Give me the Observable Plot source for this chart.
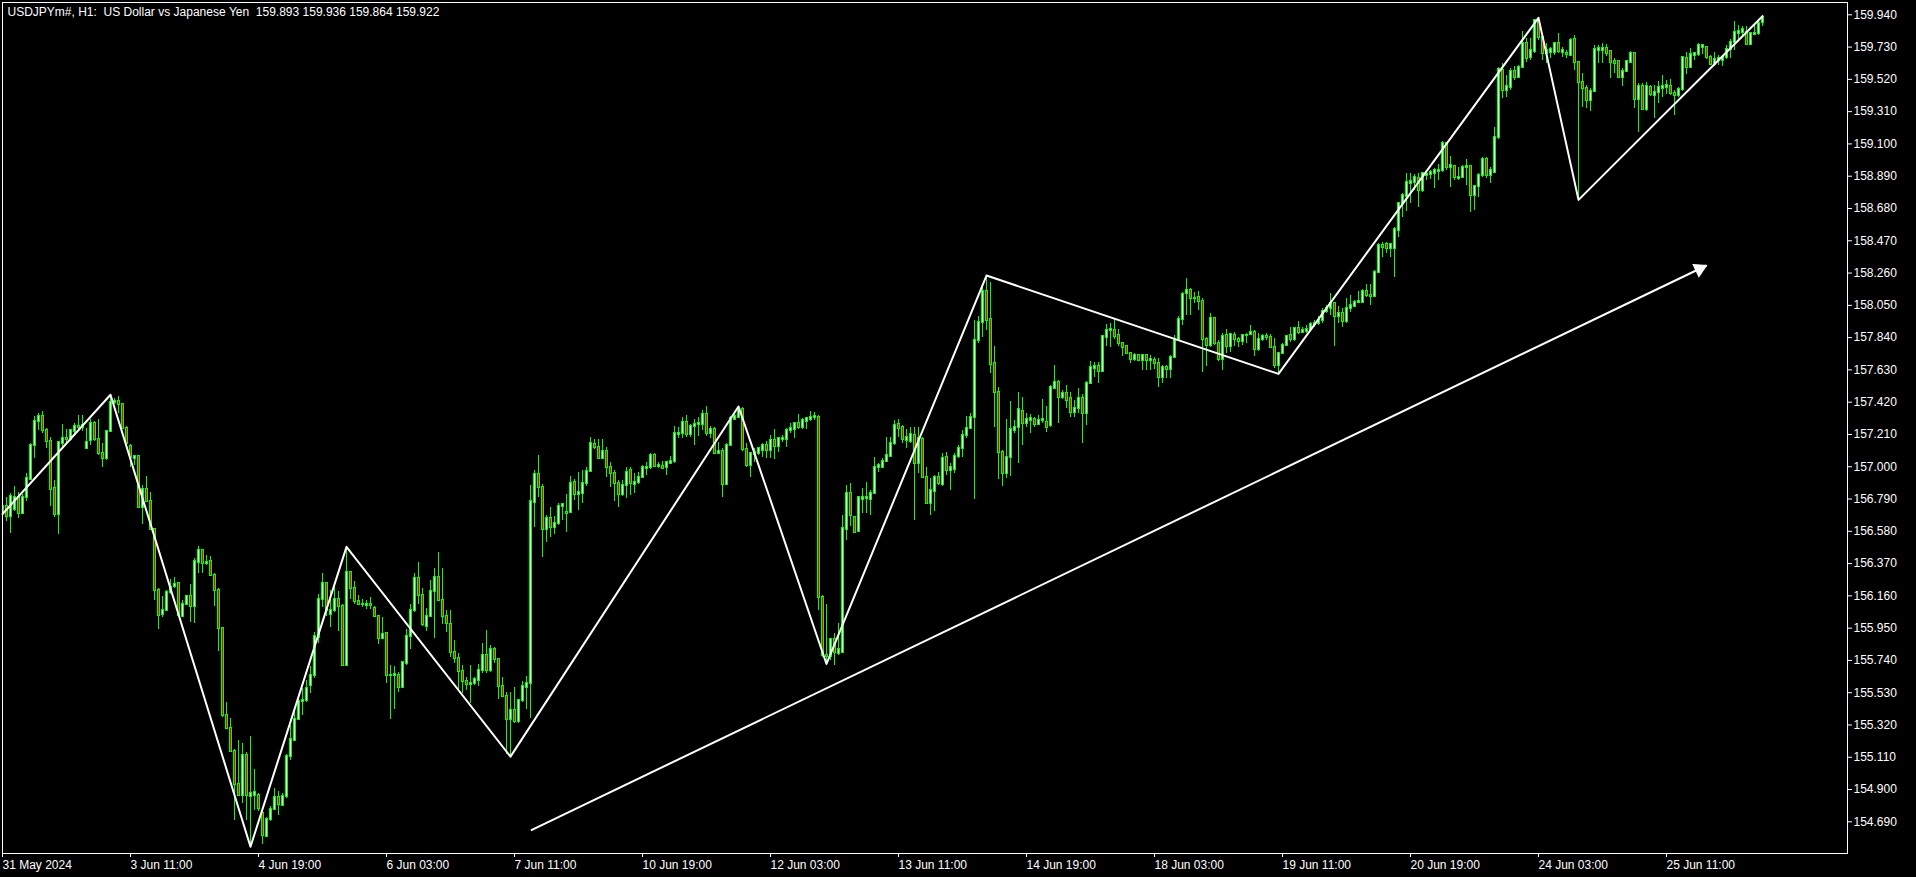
<!DOCTYPE html>
<html><head><meta charset="utf-8">
<script src="https://cdn.jsdelivr.net/npm/d3@7"></script>
<script src="https://cdn.jsdelivr.net/npm/@observablehq/plot@0.6"></script>
<style>html,body{margin:0;padding:0;background:#000;overflow:hidden}</style>
</head><body><div id="chart"></div>
<script>
const titleText = "USDJPYm#, H1:  US Dollar vs Japanese Yen  159.893 159.936 159.864 159.922";

const open = [
156.710,156.743,156.677,156.721,156.798,156.699,156.798,156.919,157.139,157.293,
157.326,157.233,157.161,156.857,156.688,157.154,157.183,157.178,157.227,157.260,
157.255,157.117,157.172,157.282,157.178,157.084,157.055,157.227,157.418,157.424,
157.407,157.249,157.134,157.051,157.066,156.732,156.853,156.776,156.594,156.194,
156.040,156.062,156.183,156.220,156.238,156.029,156.101,156.154,156.088,156.380,
156.457,156.369,156.385,156.292,156.198,155.947,155.380,155.297,155.150,154.930,
154.864,155.121,154.853,154.864,154.864,154.747,154.596,154.703,154.771,154.846,
154.798,154.853,155.112,155.222,155.358,155.472,155.479,155.578,155.640,155.886,
156.139,156.238,156.040,156.062,156.139,156.088,155.706,156.310,156.209,156.123,
156.101,156.099,156.106,156.079,156.029,155.881,155.914,155.644,155.640,155.640,
155.567,155.721,155.897,156.062,156.271,156.161,155.963,156.029,156.189,156.277,
156.132,156.025,155.973,155.793,155.754,155.669,155.604,155.583,155.591,155.609,
155.674,155.771,155.674,155.808,155.743,155.570,155.507,155.353,155.413,155.344,
155.478,155.565,155.587,156.769,156.949,156.862,156.589,156.661,156.602,156.628,
156.741,156.700,156.704,156.899,156.819,156.828,156.893,156.971,157.144,157.122,
157.055,157.097,156.997,156.953,156.893,156.819,156.877,156.975,156.884,156.895,
156.932,156.988,156.992,157.073,157.001,157.001,156.997,157.023,157.036,157.210,
157.214,157.290,157.209,157.261,157.272,157.274,157.339,157.214,157.240,157.088,
157.101,156.884,157.138,157.305,157.318,157.374,157.109,157.008,157.079,157.083,
157.105,157.138,157.105,157.170,157.131,157.179,157.175,157.235,157.244,157.279,
157.257,157.297,157.307,157.318,157.322,156.151,155.771,155.765,155.873,155.787,
155.793,156.589,156.827,156.667,156.580,156.790,156.795,156.786,156.827,156.992,
156.997,157.036,157.066,157.149,157.275,157.253,157.170,157.166,157.203,157.019,
157.175,156.932,156.763,156.841,156.928,156.884,157.058,156.975,156.980,157.066,
157.116,157.203,157.246,157.318,157.821,157.940,158.142,157.955,157.669,157.485,
157.095,156.954,157.062,157.236,157.253,157.362,157.279,157.303,157.305,157.275,
157.301,157.290,157.268,157.507,157.550,157.448,157.478,157.442,157.355,157.377,
157.442,157.344,157.544,157.640,157.652,157.622,157.843,157.886,157.886,157.854,
157.804,157.782,157.739,157.695,157.723,157.691,157.723,157.691,157.691,157.674,
157.583,157.648,157.630,157.713,157.826,157.955,158.125,158.147,158.092,158.099,
158.077,157.826,157.789,157.962,157.804,157.695,157.854,157.782,157.854,157.826,
157.813,157.854,157.860,157.875,157.760,157.826,157.847,157.843,157.778,157.659,
157.739,157.789,157.854,157.826,157.897,157.875,157.880,157.893,157.925,157.930,
157.951,158.010,158.027,158.063,157.977,157.994,157.946,158.027,158.042,158.066,
158.070,158.142,158.113,158.110,158.265,158.439,158.443,158.417,158.417,158.537,
158.710,158.757,158.845,158.849,158.873,158.797,158.895,158.899,158.905,158.922,
158.927,159.100,158.949,158.953,158.873,158.879,158.944,158.953,158.764,158.823,
158.894,158.996,158.894,158.916,159.140,159.578,159.447,159.469,159.573,159.530,
159.599,159.751,159.664,159.704,159.899,159.790,159.686,159.697,159.697,159.751,
159.697,159.690,159.675,159.777,159.632,159.502,159.458,159.382,159.443,159.708,
159.710,159.718,159.703,159.638,159.638,159.530,159.573,159.632,159.690,159.387,
159.473,159.322,159.469,159.415,159.436,159.462,159.469,159.473,159.430,159.415,
159.452,159.654,159.599,159.675,159.682,159.730,159.725,159.664,159.617,159.643,
159.643,159.660,159.712,159.762,159.820,159.827,159.827,159.747,159.812,159.816,
159.893];

const high = [
156.985,156.798,156.827,156.870,156.831,156.820,156.958,157.150,157.330,157.347,
157.358,157.249,157.187,156.908,157.161,157.275,157.244,157.244,157.282,157.336,
157.336,157.249,157.310,157.297,157.310,157.150,157.238,157.468,157.446,157.457,
157.413,157.260,157.143,157.073,157.073,156.875,156.936,156.831,156.600,156.205,
156.156,156.194,156.264,156.282,156.249,156.128,156.161,156.233,156.402,156.484,
156.462,156.424,156.413,156.308,156.205,155.952,155.468,155.363,155.161,155.222,
155.200,155.139,155.248,155.029,154.875,154.754,154.721,154.787,154.908,154.886,
154.875,155.128,155.314,155.424,155.486,155.556,155.611,155.699,155.919,156.172,
156.303,156.249,156.194,156.249,156.189,156.106,156.479,156.314,156.255,156.161,
156.134,156.128,156.150,156.088,156.035,156.018,155.923,155.710,155.699,155.662,
155.732,155.941,156.101,156.308,156.376,156.205,156.079,156.260,156.341,156.440,
156.336,156.064,156.064,155.869,155.787,155.706,155.630,155.706,155.630,155.711,
155.847,155.934,155.836,155.826,155.754,155.630,155.533,155.533,155.565,155.489,
155.604,155.635,156.877,156.975,157.073,156.884,156.682,156.736,156.676,156.758,
156.762,156.819,156.938,156.914,156.964,156.975,156.992,157.188,157.175,157.179,
157.175,157.127,157.029,156.975,156.910,156.910,156.997,156.997,156.953,156.964,
157.008,157.029,157.088,157.083,157.029,157.036,157.036,157.066,157.261,157.257,
157.322,157.333,157.274,157.305,157.318,157.365,157.392,157.261,157.257,157.159,
157.116,157.153,157.326,157.355,157.392,157.383,157.148,157.094,157.116,157.127,
157.148,157.166,157.203,157.240,157.188,157.203,157.246,157.279,157.290,157.339,
157.311,157.322,157.361,157.355,157.333,156.161,156.103,155.880,155.912,155.977,
156.682,156.877,156.893,156.676,156.801,156.856,156.899,156.845,157.062,157.018,
157.051,157.188,157.188,157.301,157.305,157.268,157.240,157.257,157.257,157.257,
157.188,156.993,156.921,156.943,156.965,157.088,157.095,157.019,157.088,157.138,
157.236,157.327,157.348,157.951,157.977,158.168,158.244,158.201,157.782,157.518,
157.105,157.305,157.426,157.301,157.485,157.448,157.348,157.340,157.322,157.333,
157.435,157.392,157.528,157.659,157.561,157.496,157.528,157.485,157.431,157.507,
157.470,157.557,157.687,157.680,157.680,157.854,157.925,157.934,157.955,157.890,
157.810,157.789,157.745,157.734,157.730,157.730,157.730,157.723,157.713,157.702,
157.659,157.659,157.724,157.854,157.977,158.136,158.222,158.157,158.136,158.142,
158.092,157.838,157.999,157.969,157.821,157.865,157.890,157.869,157.875,157.843,
157.860,157.865,157.919,157.886,157.865,157.860,157.865,157.860,157.832,157.745,
157.800,157.854,157.908,157.908,157.947,157.908,157.919,157.940,157.951,157.977,
158.027,158.049,158.124,158.070,158.042,158.027,158.092,158.113,158.081,158.142,
158.150,158.185,158.185,158.276,158.454,158.461,158.461,158.454,158.554,158.721,
158.779,158.905,158.910,158.901,158.905,158.916,158.916,158.927,158.938,158.966,
159.118,159.111,159.018,158.960,158.949,158.960,158.996,158.960,158.829,158.910,
159.009,159.009,158.944,159.204,159.599,159.621,159.545,159.588,159.603,159.610,
159.833,159.784,159.784,159.907,159.920,159.799,159.751,159.729,159.762,159.816,
159.725,159.708,159.784,159.805,159.638,159.556,159.480,159.458,159.740,159.740,
159.755,159.747,159.708,159.653,159.643,159.588,159.643,159.703,159.697,159.495,
159.491,159.502,159.480,159.480,159.508,159.545,159.512,159.517,159.447,159.465,
159.669,159.697,159.718,159.697,159.751,159.747,159.729,159.675,159.697,159.675,
159.675,159.740,159.777,159.899,159.870,159.864,159.864,159.827,159.870,159.907,
159.936];

const low = [
156.655,156.644,156.567,156.710,156.666,156.688,156.776,156.908,157.055,157.238,
157.216,157.121,156.743,156.673,156.556,157.128,157.150,157.161,157.205,157.227,
157.227,157.112,157.139,157.161,157.073,156.996,157.040,157.222,157.402,157.347,
157.244,157.139,156.996,157.007,156.732,156.622,156.765,156.589,156.128,155.941,
156.018,156.057,156.172,156.211,156.029,156.018,156.095,155.985,155.978,156.308,
156.303,156.358,156.286,156.088,155.798,155.369,155.292,155.139,154.699,154.853,
154.809,154.699,154.528,154.765,154.754,154.545,154.589,154.694,154.765,154.732,
154.787,154.842,155.090,155.215,155.347,155.380,155.468,155.523,155.622,155.853,
156.084,156.029,155.952,156.051,155.930,155.699,155.699,156.139,156.106,156.095,
156.084,156.073,156.073,156.018,155.846,155.875,155.589,155.354,155.424,155.534,
155.556,155.710,155.809,156.051,156.106,155.963,155.930,156.018,155.881,156.128,
155.974,155.923,155.760,155.717,155.554,155.522,155.544,155.461,155.576,155.570,
155.652,155.652,155.663,155.717,155.489,155.500,155.131,155.114,155.327,155.327,
155.468,155.418,155.359,156.606,156.801,156.411,156.509,156.541,156.559,156.617,
156.650,156.574,156.697,156.780,156.715,156.762,156.871,156.964,157.109,157.051,
157.051,156.927,156.867,156.775,156.736,156.806,156.791,156.812,156.823,156.884,
156.921,156.942,156.979,156.992,156.986,156.979,156.942,157.018,157.018,157.181,
157.181,157.188,157.192,157.138,157.196,157.235,157.196,157.181,157.079,157.079,
156.797,156.877,157.131,157.300,157.311,157.101,156.997,156.927,157.029,157.073,
157.057,157.051,157.051,157.044,157.094,157.159,157.122,157.214,157.181,157.240,
157.240,157.240,157.296,157.300,156.064,155.760,155.717,155.739,155.706,155.771,
155.782,156.520,156.611,156.563,156.574,156.693,156.693,156.682,156.819,156.964,
156.992,157.029,157.060,157.138,157.192,157.149,157.116,157.149,156.650,156.954,
156.927,156.758,156.682,156.711,156.878,156.871,156.943,156.845,156.958,157.051,
157.058,157.181,157.240,156.785,157.804,157.843,157.886,157.609,157.257,156.915,
156.871,156.921,156.936,157.214,157.023,157.138,157.257,157.218,157.257,157.268,
157.279,157.225,157.257,157.500,157.283,157.435,157.377,157.318,157.318,157.348,
157.149,157.268,157.535,157.583,157.539,157.615,157.782,157.778,157.826,157.782,
157.717,157.730,157.674,157.687,157.687,157.626,157.626,157.626,157.630,157.513,
157.544,157.572,157.572,157.702,157.817,157.919,157.984,157.984,158.060,158.016,
157.615,157.652,157.778,157.789,157.687,157.626,157.739,157.745,157.782,157.778,
157.789,157.800,157.854,157.717,157.752,157.817,157.821,157.773,157.637,157.604,
157.730,157.782,157.810,157.817,157.860,157.865,157.865,157.882,157.908,157.919,
157.934,157.995,157.983,157.782,157.933,157.907,157.933,158.005,158.038,158.059,
158.059,158.103,158.048,158.107,158.259,158.363,158.385,158.363,158.228,158.489,
158.623,158.662,158.714,158.797,158.688,158.786,158.862,158.866,158.808,158.862,
158.916,158.927,158.818,158.862,158.862,158.873,158.829,158.656,158.667,158.753,
158.884,158.873,158.844,158.910,159.126,159.393,159.404,159.447,159.512,159.523,
159.588,159.632,159.643,159.690,159.773,159.643,159.621,159.654,159.675,159.686,
159.664,159.654,159.669,159.578,158.736,159.335,159.328,159.313,159.436,159.621,
159.625,159.669,159.523,159.560,159.523,159.473,159.567,159.625,159.328,159.176,
159.317,159.313,159.408,159.263,159.365,159.404,159.421,159.415,159.285,159.404,
159.443,159.552,159.588,159.643,159.669,159.682,159.647,159.610,159.604,159.610,
159.604,159.647,159.653,159.708,159.773,159.794,159.740,159.740,159.805,159.805,
159.864];

const close = [
156.739,156.677,156.809,156.798,156.699,156.798,156.926,157.139,157.293,157.326,
157.233,157.161,156.853,156.688,157.156,157.183,157.178,157.238,157.260,157.255,
157.271,157.156,157.282,157.178,157.084,157.055,157.227,157.418,157.424,157.407,
157.249,157.150,157.062,157.064,156.736,156.853,156.776,156.594,156.194,156.035,
156.066,156.183,156.216,156.233,156.035,156.101,156.154,156.088,156.385,156.457,
156.369,156.380,156.292,156.194,155.947,155.380,155.297,155.150,154.930,154.864,
155.121,154.864,154.875,154.879,154.776,154.600,154.706,154.771,154.846,154.802,
154.857,155.112,155.226,155.358,155.472,155.479,155.556,155.644,155.897,156.139,
156.238,156.062,156.066,156.139,156.088,155.706,156.310,156.209,156.123,156.101,
156.101,156.106,156.095,156.029,155.881,155.908,155.644,155.640,155.648,155.567,
155.725,155.897,156.066,156.271,156.161,155.974,156.029,156.189,156.277,156.132,
156.029,155.977,155.793,155.754,155.669,155.604,155.583,155.593,155.613,155.674,
155.771,155.674,155.808,155.743,155.570,155.507,155.353,155.413,155.344,155.478,
155.570,155.587,156.773,156.949,156.862,156.589,156.661,156.602,156.628,156.741,
156.754,156.696,156.888,156.819,156.834,156.893,156.971,157.148,157.122,157.055,
157.097,156.997,156.953,156.888,156.819,156.877,156.964,156.888,156.899,156.932,
156.992,156.997,157.073,157.001,157.005,156.988,157.029,157.036,157.214,157.218,
157.290,157.209,157.261,157.274,157.279,157.339,157.214,157.240,157.088,157.101,
156.884,157.138,157.311,157.326,157.365,157.109,157.008,157.083,157.094,157.116,
157.138,157.105,157.170,157.131,157.181,157.185,157.235,157.246,157.279,157.257,
157.300,157.311,157.318,157.326,156.151,155.771,155.765,155.873,155.793,155.808,
156.596,156.827,156.682,156.574,156.797,156.801,156.801,156.827,156.997,157.008,
157.036,157.073,157.149,157.268,157.246,157.175,157.188,157.210,157.019,157.181,
156.932,156.763,156.845,156.928,156.889,157.051,156.975,156.993,157.066,157.116,
157.203,157.246,157.318,157.821,157.940,158.142,157.951,157.665,157.485,157.095,
156.954,157.062,157.240,157.253,157.370,157.279,157.305,157.312,157.275,157.301,
157.305,157.257,157.513,157.550,157.448,157.478,157.431,157.355,157.377,157.442,
157.344,157.544,157.643,157.652,157.622,157.847,157.886,157.895,157.847,157.800,
157.778,157.739,157.695,157.723,157.691,157.723,157.691,157.697,157.674,157.583,
157.648,157.630,157.713,157.826,157.955,158.121,158.147,158.092,158.096,158.077,
157.826,157.789,157.962,157.804,157.695,157.847,157.782,157.860,157.826,157.817,
157.854,157.856,157.875,157.760,157.826,157.847,157.843,157.778,157.659,157.739,
157.789,157.847,157.826,157.897,157.875,157.886,157.895,157.925,157.934,157.951,
158.012,158.027,158.063,157.977,157.994,157.946,158.027,158.048,158.070,158.074,
158.142,158.113,158.110,158.265,158.439,158.428,158.417,158.443,158.541,158.710,
158.764,158.851,158.856,158.879,158.797,158.905,158.903,158.912,158.927,158.927,
159.100,158.949,158.960,158.879,158.884,158.949,158.955,158.764,158.823,158.894,
158.996,158.894,158.927,159.144,159.582,159.447,159.473,159.573,159.530,159.599,
159.751,159.653,159.708,159.903,159.790,159.686,159.708,159.712,159.751,159.703,
159.708,159.683,159.773,159.632,159.502,159.458,159.382,159.443,159.712,159.718,
159.722,159.690,159.632,159.625,159.530,159.573,159.638,159.690,159.387,159.473,
159.322,159.473,159.421,159.436,159.465,159.475,159.480,159.430,159.415,159.452,
159.660,159.599,159.682,159.686,159.740,159.742,159.660,159.617,159.647,159.653,
159.660,159.712,159.762,159.827,159.833,159.842,159.747,159.816,159.820,159.886,
159.922];

const xTickBars = [0, 32, 64, 96, 128, 160, 192, 224, 256, 288, 320, 352, 384, 416];
const xTickLabels = ["31 May 2024", "3 Jun 11:00", "4 Jun 19:00", "6 Jun 03:00", "7 Jun 11:00",
  "10 Jun 19:00", "12 Jun 03:00", "13 Jun 11:00", "14 Jun 19:00", "18 Jun 03:00",
  "19 Jun 11:00", "20 Jun 19:00", "24 Jun 03:00", "25 Jun 11:00"];
const yTicks = [154.690, 154.900, 155.110, 155.320, 155.530, 155.740, 155.950, 156.160, 156.370,
  156.580, 156.790, 157.000, 157.210, 157.420, 157.630, 157.840, 158.050, 158.260, 158.470,
  158.680, 158.890, 159.100, 159.310, 159.520, 159.730, 159.940];

const zigBars = [0, 27, 62, 86, 127, 184, 206, 246, 319, 384, 394, 440];
const zigPrices = [156.692, 157.468, 154.528, 156.479, 155.114, 157.392, 155.717, 158.244, 157.604, 159.920, 158.736, 159.931];

const arrowBars = [132.1, 426];
const arrowPrices = [154.635, 158.309];

// build tables
const candles = open.map((o, i) => ({i, o, h: high[i], l: low[i], c: close[i]}));
const bulls = candles.filter(d => d.c >= d.o);
const bears = candles.filter(d => d.c < d.o);
const zig = zigBars.map((b, k) => ({b, p: zigPrices[k]}));
const arrow = [{x1: arrowBars[0], y1: arrowPrices[0], x2: arrowBars[1], y2: arrowPrices[1]}];
const labelMap = new Map(xTickBars.map((b, k) => [b, xTickLabels[k]]));

const GREEN = "#00ff00";
const bodyOpts = (fill) => ({
  x1: d => d.i - 0.25, x2: d => d.i + 0.25, y1: "o", y2: "c",
  fill, stroke: GREEN, strokeWidth: 1, insetTop: -0.5, insetBottom: -0.5,
  shapeRendering: "crispEdges", clip: true
});

const chart = Plot.plot({
  width: 1916, height: 877,
  marginLeft: 2, marginRight: 69, marginTop: 2, marginBottom: 24,
  style: {background: "#000", color: "#fff", fontFamily: "'Liberation Sans', Arial, sans-serif", fontSize: "12px"},
  x: {type: "linear", domain: [0, 461.25], axis: null},
  y: {type: "linear", domain: [154.484, 160.020], axis: null},
  marks: [
    Plot.ruleX(candles, {x: "i", y1: "l", y2: "h", stroke: GREEN, strokeWidth: 1, shapeRendering: "crispEdges", clip: true}),
    Plot.rect(bulls, bodyOpts("#ffffff")),
    Plot.rect(bears, bodyOpts("#ff0000")),
    Plot.line(zig, {x: "b", y: "p", stroke: "#ffffff", strokeWidth: 2}),
    Plot.link(arrow, {x1: "x1", y1: "y1", x2: "x2", y2: "y2", stroke: "#ffffff", strokeWidth: 2}),
    Plot.dot(arrow, {x: "x2", y: "y2", symbol: "triangle", r: 5, fill: "#ffffff", stroke: "#ffffff", strokeWidth: 1, rotate: 64.4, dx: -7, dy: 3.4}),
    Plot.frame({stroke: "#ffffff"}),
    Plot.axisY(yTicks, {anchor: "right", tickSize: 4, tickPadding: 2, tickFormat: d => d.toFixed(3), stroke: "#ffffff", fill: "#ffffff"}),
    Plot.axisX(xTickBars, {anchor: "bottom", tickSize: 4, tickPadding: 3, tickFormat: d => labelMap.get(d), textAnchor: "start", stroke: "#ffffff", fill: "#ffffff"}),
    Plot.text([titleText.replace(/ /g, "\u00a0")], {frameAnchor: "top-left", dx: 5, dy: 5, lineAnchor: "top", textAnchor: "start", fill: "#ffffff"})
  ]
});
document.getElementById("chart").appendChild(chart);
</script>
</body></html>
